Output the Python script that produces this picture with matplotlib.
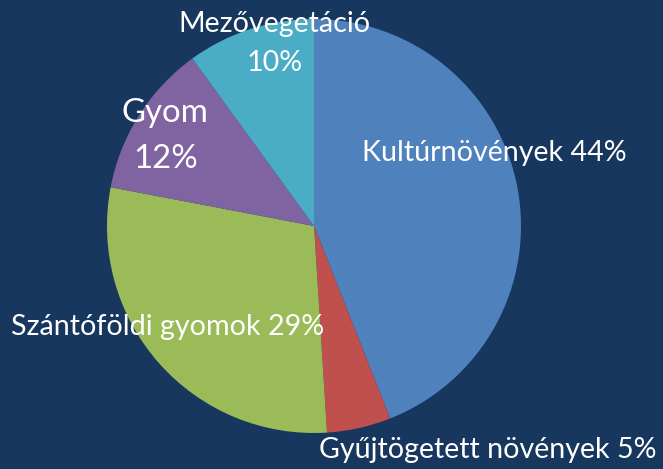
import matplotlib.pyplot as plt

categories = ["Kultúrnövények", "Gyűjtögetett növények", "Szántóföldi gyomok", "Gyom", "Mezővegetáció"]
values = [44, 5, 29, 12, 10]
colors = ["#4f81bd", "#c0504d", "#9bbb59", "#8064a2", "#4bacc6"]
bg = "#17375e"

W, H = 663, 469
fig = plt.figure(figsize=(W / 100, H / 100), dpi=100, facecolor=bg)
ax = fig.add_axes([0, 0, 1, 1])
ax.set_facecolor(bg)

ax.pie(values, colors=colors, startangle=90, counterclock=False,
       center=(314, H - 226), radius=207, frame=True,
       wedgeprops=dict(linewidth=0))
ax.set_xlim(0, W)
ax.set_ylim(0, H)
ax.set_aspect("auto")
ax.axis("off")

font = "Lato"
def label(x, y_base, s, size):
    ax.text(x, H - y_base, s, color="white", fontsize=size, family=font,
            ha="center", va="baseline")

# labels: (center x, baseline y from top)
label(494, 161, f"{categories[0]} {values[0]}%", 20.6)
label(488, 458, f"{categories[1]} {values[1]}%", 20.6)
label(168, 335, f"{categories[2]} {values[2]}%", 20.6)
label(165, 122, categories[3], 23.8)
label(166, 168, f"{values[3]}%", 23.8)
label(274, 32, categories[4], 20.6)
label(275, 71, f"{values[4]}%", 20.6)

fig.savefig("out.png", dpi=100, facecolor=bg)
